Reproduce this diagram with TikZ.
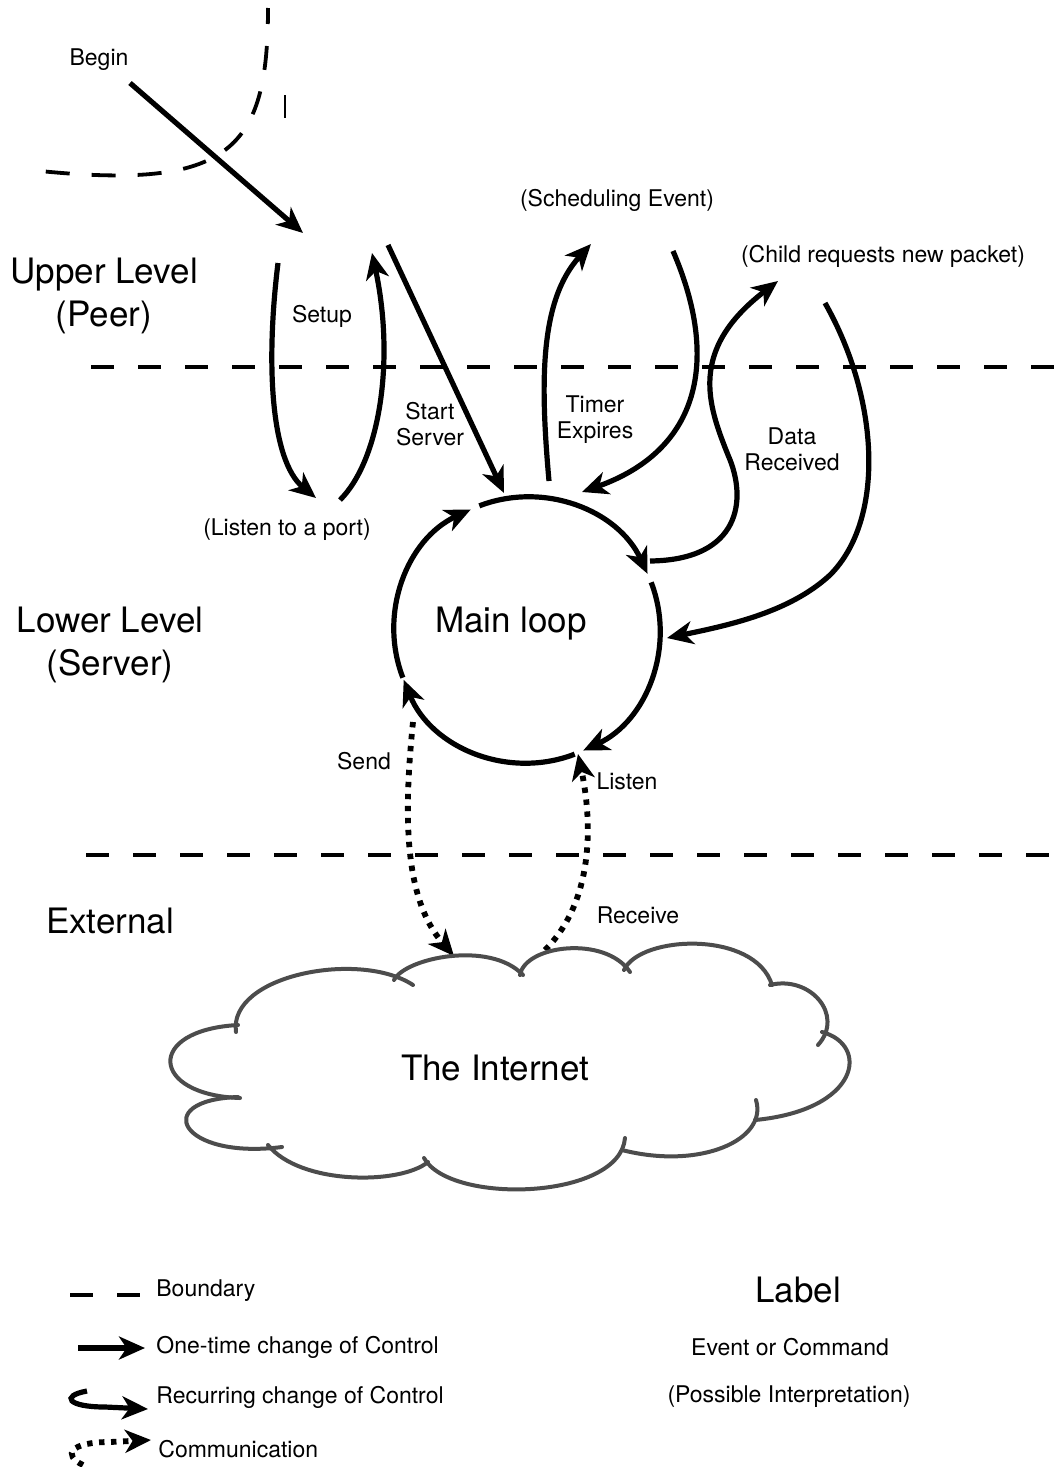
\documentclass[tikz,border=0pt]{standalone}
\usepackage{fontspec}
\setmainfont{TeX Gyre Heros}
\usetikzlibrary{arrows.meta}
\begin{document}
\begin{tikzpicture}[x=0.5pt,y=-0.5pt,
  tip/.style={-{Stealth[length=13pt,width=11.5pt,inset=3.8pt]}},
  ctrl/.style={line width=2.6pt, tip},
  comm/.style={line width=2.9pt, dash pattern=on 2.7pt off 3.3pt, tip},
  bound/.style={line width=2pt, dash pattern=on 11.5pt off 12pt},
  puff/.style={draw=black!70, line width=2pt, line cap=round},
  lbl/.style={font=\fontsize{11.5}{13}\selectfont, align=center, inner sep=0pt},
  big/.style={font=\fontsize{17.5}{21.5}\selectfont, align=center, inner sep=0pt},
]
\fill[white] (0,0) rectangle (1054,1467);
\useasboundingbox (0,0) rectangle (1054,1467);

% level boundaries
\coordinate (b1l) at (91,367);  \coordinate (b1r) at (1054,367);
\coordinate (b2l) at (86,855);  \coordinate (b2r) at (1054,855);
\draw[bound] (b1l) -- (b1r);
\draw[bound] (b2l) -- (b2r);

% entry arc and tick
\draw[line width=1.9pt, dash pattern=on 12pt off 11pt, dash phase=4pt]
  (268,8) .. controls (268,150) and (230,190) .. (40,171);
\draw[line width=0.8pt] (285,95) -- (285,118);

% level titles
\node[big] (upper) at (104,296) {Upper Level\\(Peer)};
\node[big] (lower) at (110,645) {Lower Level\\(Server)};
\node[big] (ext)   at (110,921) {External};

% labels
\node[lbl] (begin)  at (99,60)   {Begin};
\node[lbl] (setup)  at (322,316) {Setup};
\node[lbl] (listenport) at (287,530) {(Listen to a port)};
\node[lbl] (start)  at (430,424) {Start\\Server};
\node[lbl] (timer)  at (595,420) {Timer\\Expires};
\node[lbl] (sched)  at (617,200) {(Scheduling Event)};
\node[lbl] (child)  at (883,256) {(Child requests new packet)};
\node[lbl] (data)   at (792,449) {Data\\Received};
\node[lbl] (send)   at (364,761) {Send};
\node[lbl] (listen) at (627,781) {Listen};
\node[lbl] (recv)   at (638,915) {Receive};

% begin
\coordinate (bgS) at (130,83); \coordinate (bgE) at (303,233);
\draw[ctrl] (bgS) -- (bgE);

% setup loop
\coordinate (suA) at (278,263); \coordinate (suB) at (316,498);
\coordinate (suC) at (340,500); \coordinate (suD) at (372,253);
\draw[ctrl] (suA) .. controls (266,360) and (270,460) .. (suB);
\draw[ctrl] (suC) .. controls (380,460) and (395,360) .. (suD);

% start server
\coordinate (ssA) at (388,245); \coordinate (ssB) at (504,493);
\draw[ctrl] (ssA) -- (ssB);

% timer
\coordinate (tmA) at (549,481); \coordinate (tmB) at (591,244);
\coordinate (tmC) at (673,251); \coordinate (tmD) at (582,492);
\draw[ctrl] (tmA) .. controls (540,380) and (540,300) .. (tmB);
\draw[ctrl] (tmC) .. controls (720,360) and (700,450) .. (tmD);

% data received
\coordinate (drA) at (650,561); \coordinate (drM) at (728,455); \coordinate (drB) at (778,281);
\draw[ctrl] (drA) .. controls (740,560) and (748,500) .. (drM)
  .. controls (708,405) and (688,350) .. (drB);
\coordinate (crA) at (825,303); \coordinate (crM) at (830,575); \coordinate (crB) at (667,638);
\draw[ctrl] (crA) .. controls (880,400) and (885,520) .. (crM)
  .. controls (790,612) and (730,625) .. (crB);

% main loop
\node[big] (ml) at (511,624) {Main loop};
\coordinate (mc) at (527,630);
\draw[ctrl] (mc) ++(-201:133) arc[start angle=-201, end angle=-115, radius=133];
\draw[ctrl] (mc) ++(-111:133) arc[start angle=-111, end angle=-25, radius=133];
\draw[ctrl] (mc) ++(-21:133)  arc[start angle=-21,  end angle=65,  radius=133];
\draw[ctrl] (mc) ++(69:133)   arc[start angle=69,   end angle=158, radius=133];

% communication
\coordinate (snA) at (413,722); \coordinate (snB) at (454,956);
\coordinate (lsA) at (545,950); \coordinate (lsB) at (578,754);
\draw[comm] (snA) .. controls (403,820) and (405,900) .. (snB);
\draw[comm] (lsA) .. controls (595,900) and (592,820) .. (lsB);

% the internet
\draw[puff] (236,1032) .. controls (228,975) and (360,950) .. (413,985);
\draw[puff] (394,980) .. controls (405,958) and (490,940) .. (523,975);
\draw[puff] (520,975) .. controls (525,945) and (605,935) .. (630,972);
\draw[puff] (624,970) .. controls (640,935) and (755,930) .. (772,985);
\draw[puff] (770,985) .. controls (810,975) and (845,1015) .. (818,1045);
\draw[puff] (822,1032) .. controls (870,1045) and (860,1110) .. (755,1120);
\draw[puff] (756,1100) .. controls (768,1140) and (700,1170) .. (622,1150);
\draw[puff] (625,1138) .. controls (620,1200) and (450,1205) .. (424,1158);
\draw[puff] (428,1162) .. controls (400,1185) and (300,1185) .. (268,1145);
\draw[puff] (282,1147) .. controls (180,1160) and (150,1100) .. (238,1097);
\draw[puff] (240,1098) .. controls (150,1095) and (145,1030) .. (238,1025);
\node[big] (net) at (495,1068) {The Internet};

% legend
\coordinate (lgA) at (70,1295);  \coordinate (lgB) at (140,1295);
\draw[bound] (lgA) -- (lgB);
\coordinate (lgC) at (78,1348);  \coordinate (lgD) at (145,1348);
\draw[ctrl] (lgC) -- (lgD);
\coordinate (lgE) at (87,1391);  \coordinate (lgF) at (148,1409);
\draw[ctrl] (lgE) .. controls (60,1396) and (68,1407) .. (105,1407) -- (lgF);
\coordinate (lgG) at (83,1465);  \coordinate (lgH) at (151,1440);
\draw[comm] (lgG) .. controls (62,1455) and (70,1442) .. (110,1442) -- (lgH);
\node[lbl, anchor=west] (lgt1) at (156,1291) {Boundary};
\node[lbl, anchor=west] (lgt2) at (156,1347) {One-time change of Control};
\node[lbl, anchor=west] (lgt3) at (156,1397) {Recurring change of Control};
\node[lbl, anchor=west] (lgt4) at (158,1449) {Communication};
\node[big] (lgl) at (798,1290) {Label};
\node[lbl] (lge) at (790,1347) {Event or Command};
\node[lbl] (lgp) at (789,1397) {(Possible Interpretation)};
\end{tikzpicture}
\end{document}
